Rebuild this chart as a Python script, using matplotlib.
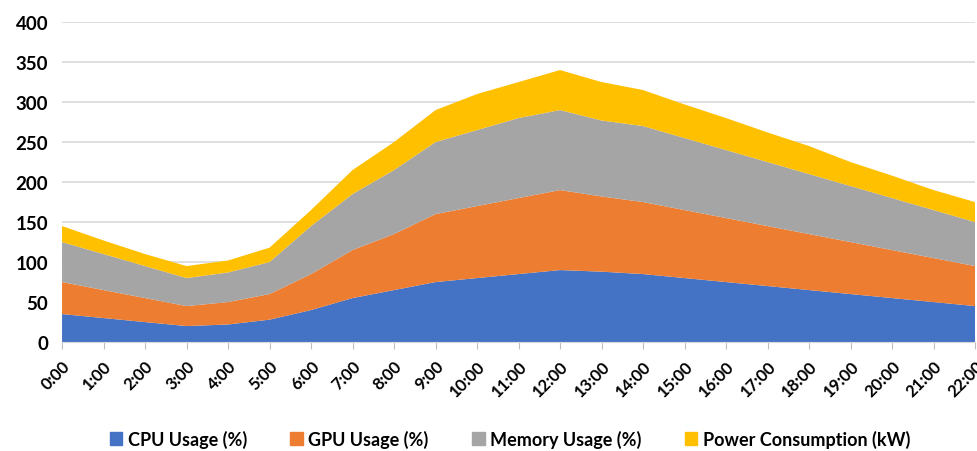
import numpy as np
import matplotlib.pyplot as plt

plt.rcParams['font.family'] = ['Lato', 'DejaVu Sans']

horas = ['0:00', '1:00', '2:00', '3:00', '4:00', '5:00', '6:00', '7:00', '8:00', '9:00', '10:00', '11:00',
         '12:00', '13:00', '14:00', '15:00', '16:00', '17:00', '18:00', '19:00', '20:00', '21:00', '22:00']
cpu = [35, 30, 25, 20, 22, 28, 40, 55, 65, 75, 80, 85, 90, 88, 85, 80, 75, 70, 65, 60, 55, 50, 45]
gpu = [40, 35, 30, 25, 28, 32, 45, 60, 70, 85, 90, 95, 100, 94, 90, 85, 80, 75, 70, 65, 60, 55, 50]
memoria = [50, 45, 40, 35, 37, 40, 60, 70, 80, 90, 95, 100, 100, 95, 95, 90, 85, 80, 75, 70, 65, 60, 55]
potencia = [20, 17, 15, 15, 15, 18, 20, 30, 35, 40, 45, 45, 50, 48, 45, 42, 40, 37, 35, 30, 28, 25, 25]

series = ['CPU Usage (%)', 'GPU Usage (%)', 'Memory Usage (%)', 'Power Consumption (kW)']
colores = ['#4472C4', '#ED7D31', '#A5A5A5', '#FFC000']

fig = plt.figure(figsize=(9.77, 4.52), dpi=100)
ax = fig.add_axes([0.0635, 0.241, 0.9345, 0.708])

x = np.arange(len(horas))
ax.stackplot(x, cpu, gpu, memoria, potencia, colors=colores, labels=series, zorder=2)

ax.set_xlim(0, len(horas) - 1)
ax.set_ylim(0, 400)
ax.set_yticks(range(0, 401, 50))
ax.grid(axis='y', color='#D9D9D9', linewidth=1.2, zorder=0)
ax.set_axisbelow(True)

for s in ['top', 'right', 'left']:
    ax.spines[s].set_visible(False)
ax.spines['bottom'].set_color('#D9D9D9')
ax.spines['bottom'].set_zorder(3)

ax.set_xticks(x)
ax.set_xticklabels(horas, rotation=45, ha='right', rotation_mode='anchor',
                   fontsize=12, fontweight='bold')
ax.tick_params(axis='x', length=5, color='#BFBFBF', pad=6)
ax.tick_params(axis='y', length=0, labelsize=13.5, pad=10)
for t in ax.get_yticklabels():
    t.set_fontweight('bold')

handles = [plt.Rectangle((0, 0), 1, 1, color=c) for c in colores]
fig.legend(handles, series, loc='center', bbox_to_anchor=(0.522, 0.027), ncol=4, frameon=False,
           prop={'size': 13, 'weight': 'bold'}, handlelength=0.7, handleheight=0.7,
           handletextpad=0.3, columnspacing=2.4)

fig.savefig('out.png', dpi=100)
